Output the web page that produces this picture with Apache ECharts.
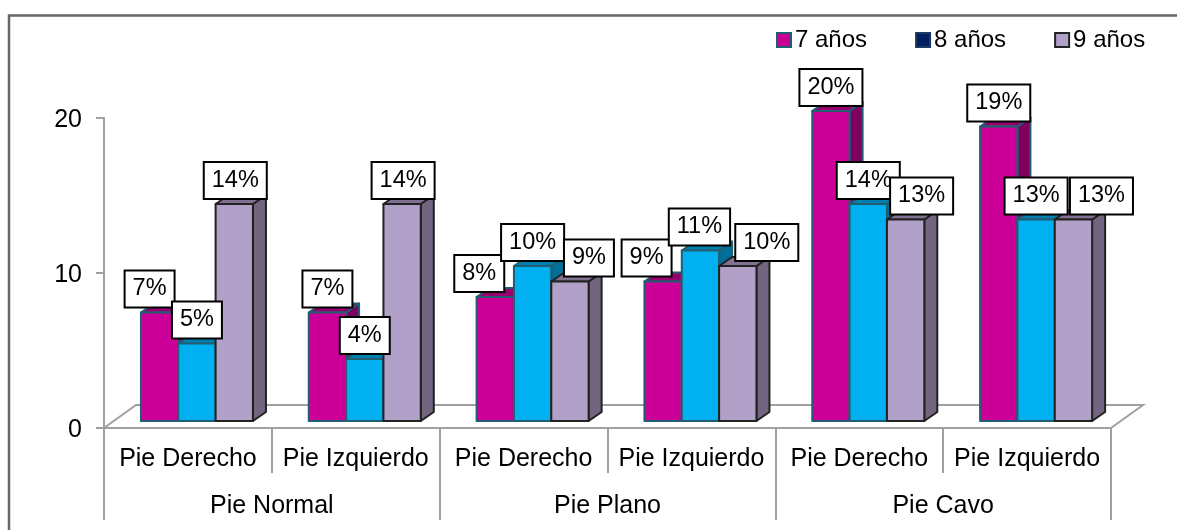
<!DOCTYPE html>
<html>
<head>
<meta charset="utf-8">
<style>html,body{margin:0;padding:0;background:#fff}#chart{width:1177px;height:530px}</style>
<script src="https://cdn.jsdelivr.net/npm/echarts@6/dist/echarts.min.js"></script>
</head>
<body>
<div id="chart"></div>
<script>
// Foot type by foot side and age group
const footSides = ['Pie Derecho', 'Pie Izquierdo', 'Pie Derecho', 'Pie Izquierdo', 'Pie Derecho', 'Pie Izquierdo'];
const footTypes = ['Pie Normal', 'Pie Plano', 'Pie Cavo'];
const yTicks = { min: 0, max: 20, interval: 10 };
const age7 = [7, 7, 8, 9, 20, 19];
const age8 = [5, 4, 10, 11, 14, 13];
const age9 = [14, 14, 9, 10, 13, 13];

// Sideways nudges of the value boxes, so neighbouring boxes do not collide
const age7Nudge = [-10, 0, -16, -16.5, 0, 0];
const age8Nudge = [0, 0, 0, -1, 0, 0];
const age9Nudge = [1, 1, 19, 29, 16, 28];

const FONT = '"Liberation Sans", Arial, sans-serif';
const AXIS_GRAY = '#a0a0a0';
const DEPTH_X = 13, DEPTH_Y = 9;       // bar extrusion
const FLOOR_X = 32, FLOOR_Y = 23;      // floor extrusion
const BAR_LIFT = 7;                    // bars stand a little behind the floor's front edge
const BAR_RATIO = 0.2225;              // bar width as a share of the category band
const GROUP_OFFSET = 0.28;             // first bar's left edge, left of band centre

const looks = [
  { front: '#CC0099', top: '#99006F', side: '#800060', edge: '#215E70' },
  { front: '#00B0F0', top: '#0080B0', side: '#006F99', edge: '#215E70' },
  { front: '#B1A0C7', top: '#7E7290', side: '#716580', edge: '#222222' }
];

function barSeries(name, legendColor, legendEdge, values, nudges, index) {
  return {
    name,
    type: 'custom',
    coordinateSystem: 'cartesian2d',
    xAxisIndex: 0,
    yAxisIndex: 0,
    clip: false,
    itemStyle: { color: legendColor, borderColor: legendEdge, borderWidth: 1.5 },
    data: values.map((v, i) => [i, v, nudges[i]]),
    renderItem(params, api) {
      const cat = api.value(0), val = api.value(1), nudge = api.value(2);
      const band = api.size([1, 0])[0];
      const w = band * BAR_RATIO;
      const centre = api.coord([cat, 0])[0];
      const x0 = centre - band * GROUP_OFFSET + index * w;
      const x1 = x0 + w;
      const y0 = api.coord([cat, 0])[1] - BAR_LIFT;
      const y1 = api.coord([cat, val])[1] - BAR_LIFT;
      const look = looks[index];
      const edge = { stroke: look.edge, lineWidth: 2, lineJoin: 'round' };
      const text = val + '%';
      return {
        type: 'group',
        children: [
          { type: 'polygon', shape: { points: [[x1, y1], [x1 + DEPTH_X, y1 - DEPTH_Y], [x1 + DEPTH_X, y0 - DEPTH_Y], [x1, y0]] },
            style: Object.assign({ fill: look.side }, edge) },
          { type: 'polygon', shape: { points: [[x0, y1], [x0 + DEPTH_X, y1 - DEPTH_Y], [x1 + DEPTH_X, y1 - DEPTH_Y], [x1, y1]] },
            style: Object.assign({ fill: look.top }, edge) },
          { type: 'rect', shape: { x: x0, y: y1, width: w, height: y0 - y1 },
            style: Object.assign({ fill: look.front }, edge) },
          { type: 'text', z2: 50,
            style: {
              text,
              x: x0 + w / 2 + nudge,
              y: y1 - 23.5,
              align: 'center',
              verticalAlign: 'middle',
              font: '23.5px ' + FONT,
              fill: '#000',
              backgroundColor: '#fff',
              borderColor: '#000',
              borderWidth: 2,
              lineHeight: 25,
              padding: [7, 7, 3, 7]
            } }
        ]
      };
    }
  };
}

const floorSeries = {
  name: 'floor',
  type: 'custom',
  coordinateSystem: 'cartesian2d',
  xAxisIndex: 0,
  yAxisIndex: 0,
  clip: false,
  silent: true,
  data: [[0, 0]],
  renderItem(params, api) {
    const c = params.coordSys;
    const b = c.y + c.height;
    return {
      type: 'polyline',
      shape: { points: [[c.x, b], [c.x + FLOOR_X, b - FLOOR_Y], [c.x + c.width + FLOOR_X, b - FLOOR_Y], [c.x + c.width, b]] },
      style: { fill: null, stroke: AXIS_GRAY, lineWidth: 2 }
    };
  }
};

const chart = echarts.init(document.getElementById('chart'));
chart.setOption({
  animation: false,
  backgroundColor: '#fff',
  textStyle: { fontFamily: FONT },
  graphic: [
    { type: 'polyline', silent: true, shape: { points: [[9, 530], [9, 15.5], [1177, 15.5]] },
      style: { fill: null, stroke: '#666666', lineWidth: 2.5 } }
  ],
  legend: {
    data: ['7 años', '8 años', '9 años'],
    left: 771,
    top: 23,
    itemWidth: 14,
    itemHeight: 14,
    itemGap: 48,
    icon: 'rect',
    selectedMode: false,
    textStyle: { fontFamily: FONT, fontSize: 24, color: '#000', padding: [0, 0, 0, -1] }
  },
  grid: { left: 104, right: 66, top: 118, bottom: 102 },
  xAxis: [
    {
      type: 'category',
      data: footSides,
      position: 'bottom',
      axisLine: { show: true, lineStyle: { color: AXIS_GRAY, width: 2 } },
      axisTick: { show: true, length: 45, interval: 0, lineStyle: { color: AXIS_GRAY, width: 2 } },
      axisLabel: { interval: 0, margin: 19, fontSize: 25, color: '#000', fontFamily: FONT }
    },
    {
      type: 'category',
      data: footTypes,
      position: 'bottom',
      axisLine: { show: false },
      axisTick: { show: true, length: 92, interval: 0, lineStyle: { color: AXIS_GRAY, width: 2 } },
      axisLabel: { interval: 0, margin: 66, fontSize: 25, color: '#000', fontFamily: FONT }
    }
  ],
  yAxis: {
    type: 'value',
    min: yTicks.min,
    max: yTicks.max,
    interval: yTicks.interval,
    splitLine: { show: false },
    axisLine: { show: true, lineStyle: { color: AXIS_GRAY, width: 2 } },
    axisTick: { show: true, length: 8, lineStyle: { color: AXIS_GRAY, width: 2 } },
    axisLabel: {
      margin: 22,
      color: '#000',
      formatter: '{v|{value}}',
      rich: { v: { fontSize: 25, fontFamily: FONT, color: '#000', padding: [4, 0, 0, 0] } }
    }
  },
  series: [
    floorSeries,
    barSeries('7 años', '#CC0099', '#215E70', age7, age7Nudge, 0),
    barSeries('8 años', '#002060', '#1F3864', age8, age8Nudge, 1),
    barSeries('9 años', '#B1A0C7', '#222222', age9, age9Nudge, 2)
  ]
});
</script>
</body>
</html>
